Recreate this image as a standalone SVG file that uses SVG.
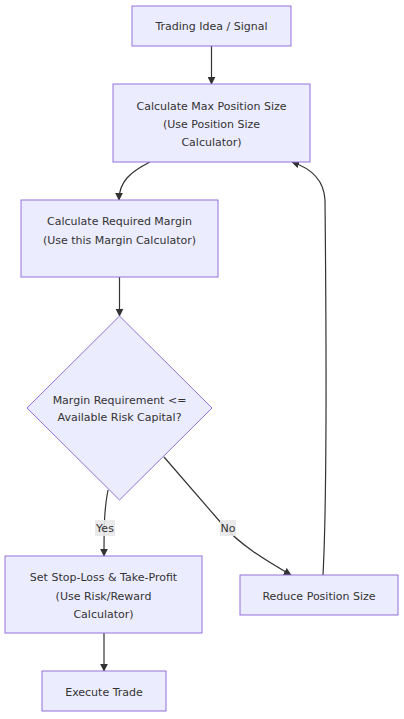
<svg xmlns="http://www.w3.org/2000/svg" width="404" height="719" viewBox="0 0 404 719">
<style>
.n{fill:#ECECFF;stroke:#9370DB;stroke-width:1}
.t{font-family:"DejaVu Sans","Liberation Sans",sans-serif;font-size:11px;fill:#333;text-anchor:middle}
.e{fill:none;stroke:#333;stroke-width:1.2}
.lb{fill:#e8e8e8;opacity:0.9}
</style>
<defs>
<marker id="ar" viewBox="0 0 10 10" refX="9" refY="5" markerWidth="8" markerHeight="8" markerUnits="userSpaceOnUse" orient="auto">
<path d="M0,0 L10,5 L0,10 z" fill="#333"/>
</marker>
</defs>
<rect width="404" height="719" fill="#fff"/>
<g id="edges">
<path class="e" d="M211.5,46 L211.5,84" marker-end="url(#ar)"/>
<path class="e" d="M150,162 C130,172 119,182 119,200" marker-end="url(#ar)"/>
<path class="e" d="M119.5,277 L119.5,316" marker-end="url(#ar)"/>
<path class="e" d="M108,490 C104,510 104,530 104,556" marker-end="url(#ar)"/>
<path class="e" d="M164,457 L222,524 C240,545 265,560 291,575" marker-end="url(#ar)"/>
<path class="e" d="M323,575 C327,500 326,300 325,200 C324,180 310,168 292,162" marker-end="url(#ar)"/>
<path class="e" d="M104,633 L104,671" marker-end="url(#ar)"/>
<rect class="lb" x="95" y="520" width="20" height="16"/>
<text class="t" x="105" y="532">Yes</text>
<rect class="lb" x="220" y="520" width="16" height="16"/>
<text class="t" x="228" y="532">No</text>
</g>
<g id="A">
<rect class="n" x="132" y="6" width="159" height="40"/>
<text class="t" x="211.5" y="30">Trading Idea / Signal</text>
</g>
<g id="B">
<rect class="n" x="113" y="84" width="197" height="78"/>
<text class="t" x="211.5" y="110">Calculate Max Position Size</text>
<text class="t" x="211.5" y="128">(Use Position Size</text>
<text class="t" x="211.5" y="146">Calculator)</text>
</g>
<g id="C">
<rect class="n" x="21" y="200" width="197" height="77"/>
<text class="t" x="119.5" y="225">Calculate Required Margin</text>
<text class="t" x="119.5" y="244">(Use this Margin Calculator)</text>
</g>
<g id="D">
<polygon class="n" points="119.5,316 212,408 119.5,500 27,408"/>
<text class="t" x="119.5" y="404">Margin Requirement &lt;=</text>
<text class="t" x="119.5" y="421">Available Risk Capital?</text>
</g>
<g id="E">
<rect class="n" x="5" y="556" width="197" height="77"/>
<text class="t" x="103.5" y="581">Set Stop-Loss &amp; Take-Profit</text>
<text class="t" x="103.5" y="600">(Use Risk/Reward</text>
<text class="t" x="103.5" y="618">Calculator)</text>
</g>
<g id="F">
<rect class="n" x="240" y="575" width="158" height="40"/>
<text class="t" x="319" y="600">Reduce Position Size</text>
</g>
<g id="G">
<rect class="n" x="42" y="671" width="124" height="40"/>
<text class="t" x="104" y="696">Execute Trade</text>
</g>
</svg>
